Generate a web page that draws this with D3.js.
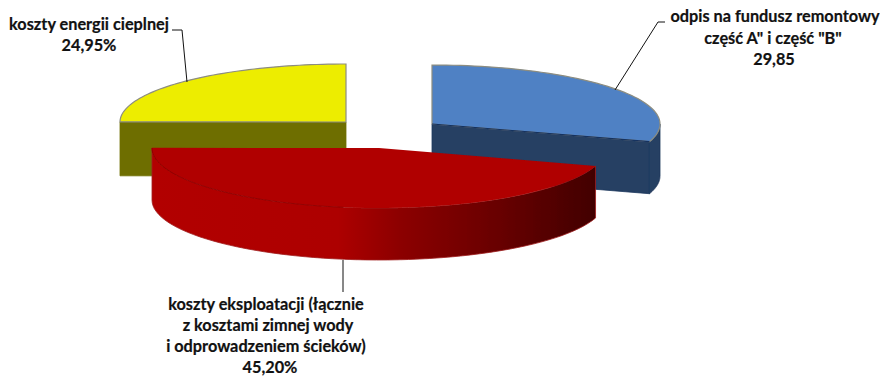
<!DOCTYPE html>
<html><head><meta charset="utf-8">
<script src="https://cdn.jsdelivr.net/npm/d3@7"></script>
<style>html,body{margin:0;padding:0;background:#fff}svg{display:block}
text{font-family:Lato,"Noto Sans",sans-serif;font-weight:700;font-size:16.3px;fill:#111;text-anchor:middle;stroke:#111;stroke-width:0.2px}</style>
</head><body><svg id="c" width="880" height="376"></svg>
<script>
const categories = ["odpis","eksploatacja","energia"];
const shares = [29.85, 45.20, 24.95];
const topColors = ["#4f81c4","#b00000","#eded00"];
const sideColors = ["#253f63","url(#redSide)","#6e6e00"];
const faceColors = ["#1f3a60","#8a0000","#6e6e00"];
const edgeColors = ["#1f3658","#a02020","#8a8a50"];
const centersX = [432,379,346];
const centersY = [124,148,122];
const radiiX = [228,227,226];
const radiiY = [59,60,58];
const depths = [52,52,54];
const labels = [
  {lines:['odpis na fundusz remontowy','część A" i część "B"','29,85'],xs:[775,773,774],ys:[22,44,65]},
  {lines:['koszty eksploatacji (łącznie','z kosztami zimnej wody','i odprowadzeniem ścieków)','45,20%'],xs:[266,268,266,270],ys:[310,331,352,373]},
  {lines:['koszty energii cieplnej','24,95%'],xs:[89,89],ys:[30,51]}
];
const leaders = [
  [[615,90],[658,22],[665,22]],
  [[343,260],[343,292]],
  [[187,82],[182,30],[172,30]]
];

const svg = d3.select("#c");
const defs = svg.append("defs");
const g = defs.append("linearGradient").attr("id","redSide").attr("gradientUnits","userSpaceOnUse")
  .attr("x1",152).attr("x2",595).attr("y1",0).attr("y2",0);
[[0,"#b20000"],[0.42,"#ad0000"],[0.56,"#8c0000"],[0.8,"#650000"],[1,"#420000"]]
  .forEach(([o,c])=>g.append("stop").attr("offset",o).attr("stop-color",c));
const soft = defs.append("filter").attr("id","soft").attr("x","-5%").attr("y","-5%").attr("width","110%").attr("height","110%");
soft.append("feGaussianBlur").attr("stdDeviation",0.45);

const arcs = d3.pie().sort(null)(shares);
const line = d3.line();
const root = svg.append("g").attr("filter","url(#soft)");

function slice(i){
  const a = arcs[i];
  const sx = d3.scaleLinear().domain([-1,1]).range([centersX[i]-radiiX[i],centersX[i]+radiiX[i]]);
  const sy = d3.scaleLinear().domain([-1,1]).range([centersY[i]-radiiY[i],centersY[i]+radiiY[i]]);
  const P = (t,dz=0)=>[sx(Math.sin(t)),sy(-Math.cos(t))+dz];
  const apex = [sx(0),sy(0)];
  const samples = (t0,t1)=>d3.range(0,61).map(k=>t0+(t1-t0)*k/60);
  const ang = samples(a.startAngle,a.endAngle);
  const d = depths[i];
  const gg = root.append("g");
  const lo = Math.max(a.startAngle,Math.PI/2), hi = Math.min(a.endAngle,Math.PI*1.5);
  if(hi>lo){
    const r = samples(lo,hi);
    const pts = r.map(t=>P(t)).concat(r.slice().reverse().map(t=>P(t,d)));
    gg.append("path").attr("d",line(pts)+"Z").attr("fill",sideColors[i])
      .attr("stroke",edgeColors[i]).attr("stroke-width",0.8);
  }
  [a.startAngle,a.endAngle].forEach(t=>{
    const p = P(t);
    if(p[1]>=apex[1]-0.5 && i!==1){
      const pts=[apex,p,[p[0],p[1]+d],[apex[0],apex[1]+d]];
      gg.append("path").attr("d",line(pts)+"Z").attr("fill",sideColors[i])
        .attr("stroke",faceColors[i]).attr("stroke-width",0.8);
    }
  });
  const top = [apex].concat(ang.map(t=>P(t)));
  gg.append("path").attr("d",line(top)+"Z").attr("fill",topColors[i])
    .attr("stroke",i===1?"none":"#8d8d80").attr("stroke-width",1.2);
  if(i===0){
    gg.append("path").attr("d",line([apex,P(a.endAngle)])).attr("stroke","#14305e").attr("stroke-width",1.2).attr("fill","none");
  }
  if(i===1){
    gg.append("path").attr("d",line(samples(Math.PI*1.05,Math.PI*1.5).map(t=>P(t)))).attr("fill","none")
      .attr("stroke","#8f0000").attr("stroke-width",0.9);
  }
}
[2,0,1].forEach(slice);

leaders.forEach(l=>svg.append("path").attr("d",line(l)).attr("fill","none").attr("stroke","#111").attr("stroke-width",1));
labels.forEach(l=>l.lines.forEach((s,k)=>svg.append("text").attr("x",l.xs[k]).attr("y",l.ys[k]).text(s)));
</script></body></html>
